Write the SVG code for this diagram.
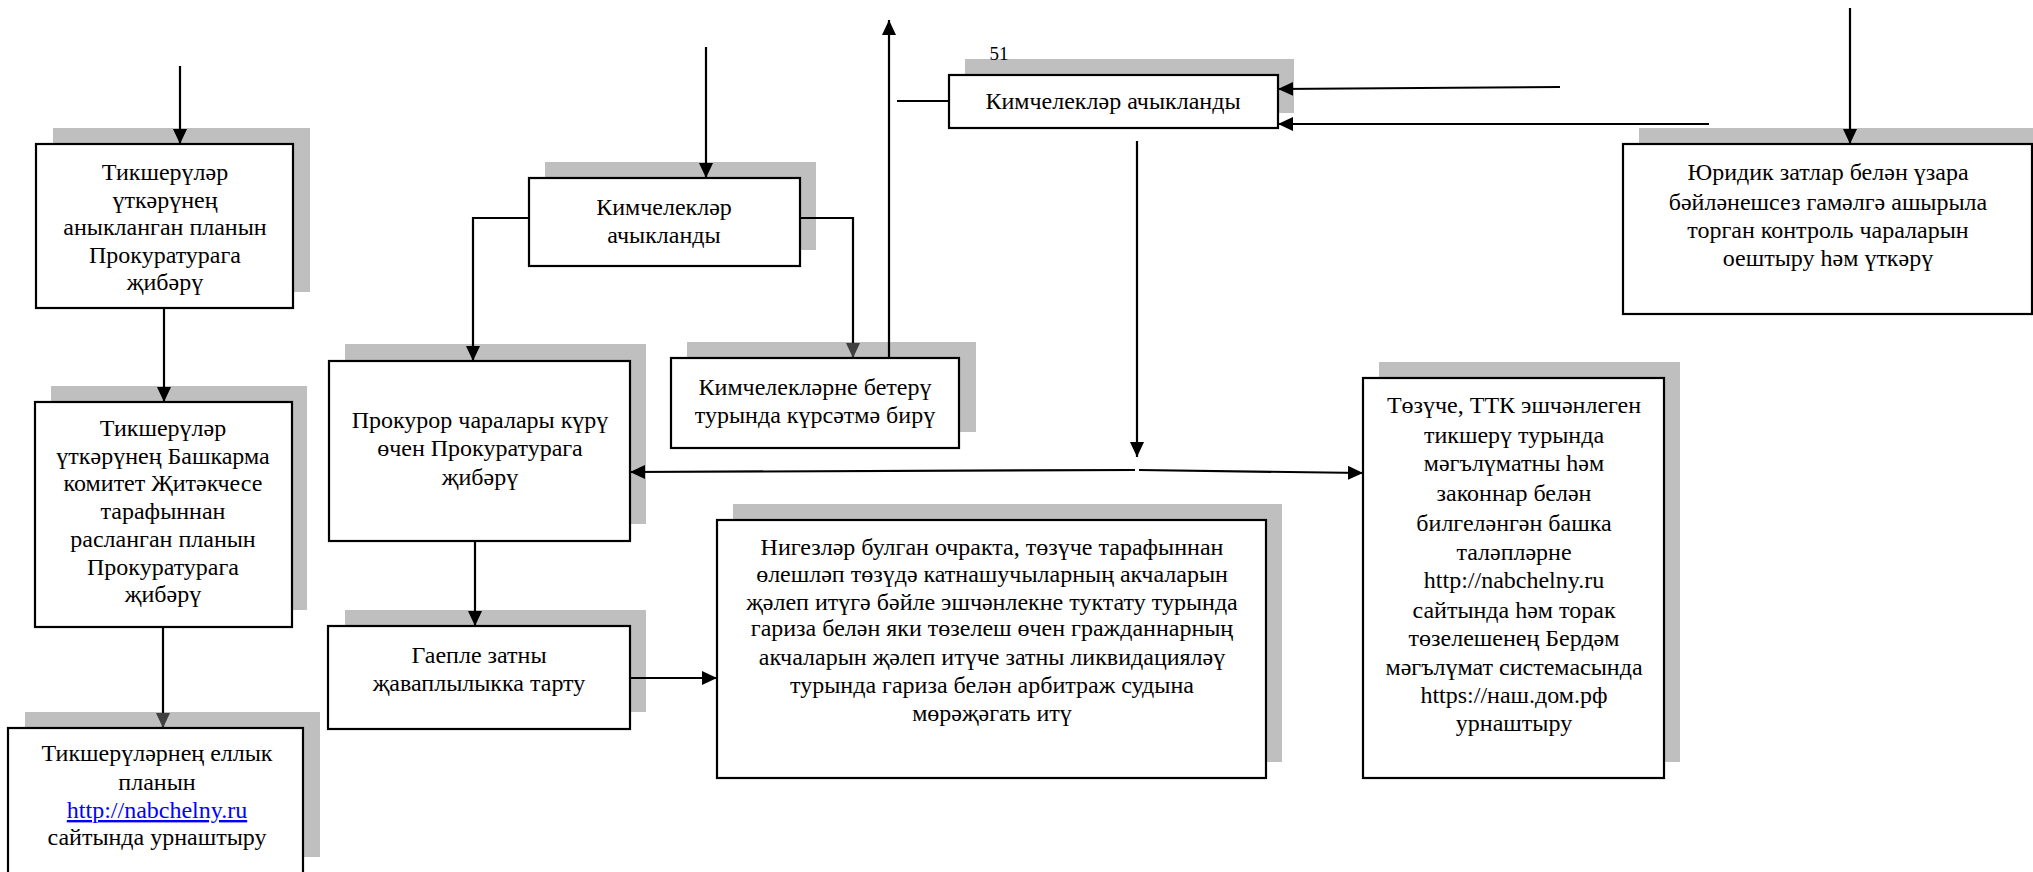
<svg xmlns="http://www.w3.org/2000/svg" width="2033" height="872" viewBox="0 0 2033 872">
<style>
.sh{fill:#bfbfbf}
.bx{fill:#fff;stroke:#000;stroke-width:2.2}
text{font-family:"Liberation Serif","Times New Roman",serif;font-size:24px;fill:#000;text-anchor:middle}
.ln{fill:none;stroke:#000;stroke-width:2.2}
.ar{marker-end:url(#ah)}
.ag{marker-end:url(#ahg)}
.lnk{fill:#0000ff;text-decoration:underline}
</style>
<defs>
<marker id="ah" markerUnits="userSpaceOnUse" markerWidth="16" markerHeight="16" refX="15" refY="7" orient="auto"><path d="M0,0 L15,7 L0,14 z" fill="#000"/></marker>
<marker id="ahg" markerUnits="userSpaceOnUse" markerWidth="16" markerHeight="16" refX="15" refY="7" orient="auto"><path d="M0,0 L15,7 L0,14 z" fill="#404040"/></marker>
</defs>
<rect width="2033" height="872" fill="#fff"/>

<g id="n1">
<rect class="sh" x="53" y="128" width="257" height="164"/>
<rect class="bx" x="36" y="144" width="257" height="164"/>
<text x="165" y="180">Тикшерүләр</text>
<text x="165" y="208">үткәрүнең</text>
<text x="165" y="235">аныкланган планын</text>
<text x="165" y="263">Прокуратурага</text>
<text x="165" y="290">җибәрү</text>
</g>

<g id="n2">
<rect class="sh" x="51" y="386" width="256" height="224"/>
<rect class="bx" x="35" y="402" width="257" height="225"/>
<text x="163" y="436">Тикшерүләр</text>
<text x="163" y="464">үткәрүнең Башкарма</text>
<text x="163" y="491">комитет Җитәкчесе</text>
<text x="163" y="519">тарафыннан</text>
<text x="163" y="547">расланган планын</text>
<text x="163" y="575">Прокуратурага</text>
<text x="163" y="602">җибәрү</text>
</g>

<g id="n3">
<rect class="sh" x="25" y="712" width="295" height="145"/>
<rect class="bx" x="8" y="728" width="295" height="148"/>
<text x="157" y="761">Тикшерүләрнең еллык</text>
<text x="157" y="790">планын</text>
<text x="157" y="818" class="lnk">http://nabchelny.ru</text>
<text x="157" y="845">сайтында урнаштыру</text>
</g>

<g id="n4">
<rect class="sh" x="545" y="162" width="271" height="88"/>
<rect class="bx" x="529" y="178" width="271" height="88"/>
<text x="664" y="215">Кимчелекләр</text>
<text x="664" y="243">ачыкланды</text>
</g>

<g id="n5">
<rect class="sh" x="345" y="344" width="301" height="180"/>
<rect class="bx" x="329" y="361" width="301" height="180"/>
<text x="480" y="428">Прокурор чаралары күрү</text>
<text x="480" y="456">өчен Прокуратурага</text>
<text x="480" y="485">җибәрү</text>
</g>

<g id="n6">
<rect class="sh" x="687" y="342" width="289" height="90"/>
<rect class="bx" x="671" y="358" width="288" height="90"/>
<text x="815" y="395">Кимчелекләрне бетерү</text>
<text x="815" y="423">турында күрсәтмә бирү</text>
</g>

<g id="n7">
<rect class="sh" x="345" y="610" width="301" height="102"/>
<rect class="bx" x="328" y="626" width="302" height="103"/>
<text x="479" y="663">Гаепле затны</text>
<text x="479" y="691">җаваплылыкка тарту</text>
</g>

<g id="n8">
<rect class="sh" x="733" y="504" width="549" height="258"/>
<rect class="bx" x="717" y="520" width="549" height="258"/>
<text x="992" y="555">Нигезләр булган очракта, төзүче тарафыннан</text>
<text x="992" y="582">өлешләп төзүдә катнашучыларның акчаларын</text>
<text x="992" y="610">җәлеп итүгә бәйле эшчәнлекне туктату турында</text>
<text x="992" y="636">гариза белән яки төзелеш өчен гражданнарның</text>
<text x="992" y="665">акчаларын җәлеп итүче затны ликвидацияләү</text>
<text x="992" y="693">турында гариза белән арбитраж судына</text>
<text x="992" y="721">мөрәҗәгать итү</text>
</g>

<g id="n9">
<rect class="sh" x="965" y="59" width="329" height="54"/>
<rect class="bx" x="949" y="75" width="329" height="53"/>
<text x="1113" y="109">Кимчелекләр ачыкланды</text>
</g>

<g id="pagenum">
<text x="999" y="60" style="font-size:19px">51</text>
</g>

<g id="n10">
<rect class="sh" x="1639" y="128" width="420" height="170"/>
<rect class="bx" x="1623" y="144" width="409" height="170"/>
<text x="1828" y="180">Юридик затлар белән үзара</text>
<text x="1828" y="210">бәйләнешсез гамәлгә ашырыла</text>
<text x="1828" y="238">торган контроль чараларын</text>
<text x="1828" y="266">оештыру һәм үткәрү</text>
</g>

<g id="n11">
<rect class="sh" x="1379" y="362" width="301" height="400"/>
<rect class="bx" x="1363" y="378" width="301" height="400"/>
<text x="1514" y="413">Төзүче, ТТК эшчәнлеген</text>
<text x="1514" y="443">тикшерү турында</text>
<text x="1514" y="471">мәгълүматны һәм</text>
<text x="1514" y="501">законнар белән</text>
<text x="1514" y="531">билгеләнгән башка</text>
<text x="1514" y="560">таләпләрне</text>
<text x="1514" y="588">http://nabchelny.ru</text>
<text x="1514" y="618">сайтында һәм торак</text>
<text x="1514" y="646">төзелешенең Бердәм</text>
<text x="1514" y="675">мәгълүмат системасында</text>
<text x="1514" y="703">https://наш.дом.рф</text>
<text x="1514" y="731">урнаштыру</text>
</g>

<g id="connectors">
<path class="ln ar" d="M180,66 L180,144"/>
<path class="ln ar" d="M164,308 L164,402"/>
<path class="ln ag" d="M163,627 L163,728"/>
<path class="ln ar" d="M706,47 L706,178"/>
<path class="ln ar" d="M529,218 L473,218 L473,361"/>
<path class="ln ag" d="M800,218 L853,218 L853,358"/>
<path class="ln ar" d="M889,358 L889,20"/>
<path class="ln" d="M897,101 L949,101"/>
<path class="ln ar" d="M1560,87 L1278,89"/>
<path class="ln ar" d="M1709,124 L1278,124"/>
<path class="ln ar" d="M1137,141 L1137,457"/>
<path class="ln ar" d="M1135,470 L630,472"/>
<path class="ln ar" d="M1139,470 L1363,473"/>
<path class="ln ar" d="M1850,8 L1850,144"/>
<path class="ln ar" d="M475,541 L475,626"/>
<path class="ln ar" d="M630,678 L717,678"/>
</g>
</svg>
